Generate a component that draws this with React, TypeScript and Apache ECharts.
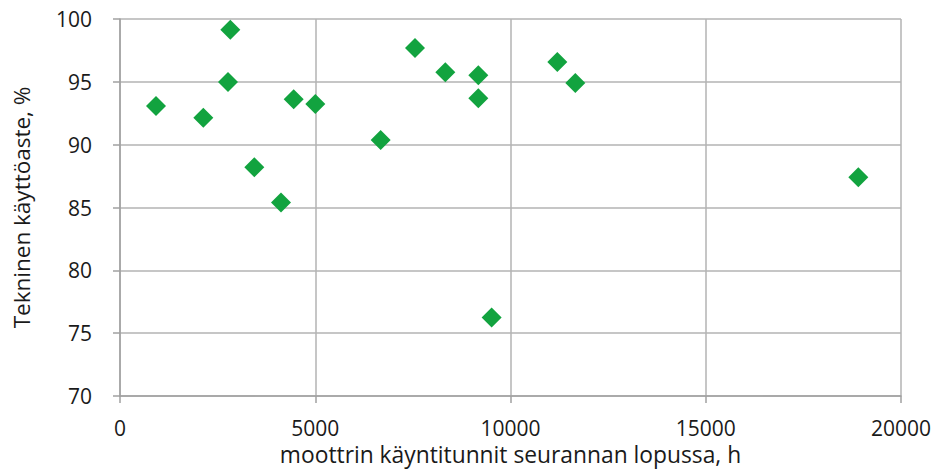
import React, { useEffect, useRef } from "react";
import * as echarts from "echarts";

const hours: number[] = [922, 2134, 2825, 2766, 3440, 4123, 4448, 5001, 6675, 7554, 8331, 9176, 9176, 9517, 11199, 11660, 18907];
const availability: number[] = [93.08, 92.15, 99.15, 94.99, 88.2, 85.39, 93.61, 93.24, 90.37, 97.69, 95.76, 95.52, 93.69, 76.24, 96.58, 94.91, 87.4];
const xTicks: number[] = [0, 5000, 10000, 15000, 20000];
const yTicks: number[] = [70, 75, 80, 85, 90, 95, 100];

const xTitle = "moottrin käyntitunnit seurannan lopussa, h";
const yTitle = "Tekninen käyttöaste, %";

export default function App() {
  const ref = useRef<HTMLDivElement>(null);
  useEffect(() => {
    if (!ref.current) return;
    const chart = echarts.init(ref.current, undefined, { renderer: "svg" });
    const font = "'Open Sans', 'Noto Sans', sans-serif";
    const data = hours.map((h, i) => [h, availability[i]]);
    chart.setOption({
      animation: false,
      backgroundColor: "#ffffff",
      grid: { left: 120, top: 19, right: 34, bottom: 74, containLabel: false, outerBoundsMode: "none" },
      xAxis: {
        type: "value",
        min: xTicks[0],
        max: xTicks[xTicks.length - 1],
        interval: 5000,
        name: xTitle,
        nameLocation: "middle",
        nameGap: 47,
        nameTextStyle: { fontFamily: font, fontSize: 22.8, color: "#1a1a1a" },
        axisLine: { show: true, lineStyle: { color: "#a0a0a0", width: 1.5 } },
        axisTick: { show: true, length: 7, lineStyle: { color: "#a0a0a0", width: 1.5 } },
        axisLabel: {
          fontFamily: font,
          fontSize: 21,
          color: "#1a1a1a",
          margin: 21,
          formatter: (v: number) => String(v),
        },
        splitLine: { show: true, lineStyle: { color: "#b3b3b3", width: 1.5 } },
      },
      yAxis: {
        type: "value",
        min: yTicks[0],
        max: yTicks[yTicks.length - 1],
        interval: 5,
        name: yTitle,
        nameLocation: "middle",
        nameGap: 87,
        nameRotate: 90,
        nameTextStyle: { fontFamily: font, fontSize: 22.5, color: "#1a1a1a" },
        axisLine: { show: true, lineStyle: { color: "#a0a0a0", width: 1.5 } },
        axisTick: { show: true, length: 7, lineStyle: { color: "#a0a0a0", width: 1.5 } },
        axisLabel: { fontFamily: font, fontSize: 21, color: "#1a1a1a", margin: 28 },
        splitLine: { show: true, lineStyle: { color: "#b3b3b3", width: 1.5 } },
      },
      series: [
        {
          type: "scatter",
          data,
          symbol: "diamond",
          symbolSize: 20,
          itemStyle: { color: "#12a33f", opacity: 1 },
        },
      ],
    });
    return () => chart.dispose();
  }, []);
  return <div ref={ref} style={{ width: 935, height: 470, position: "absolute", left: 0, top: 0 }} />;
}
